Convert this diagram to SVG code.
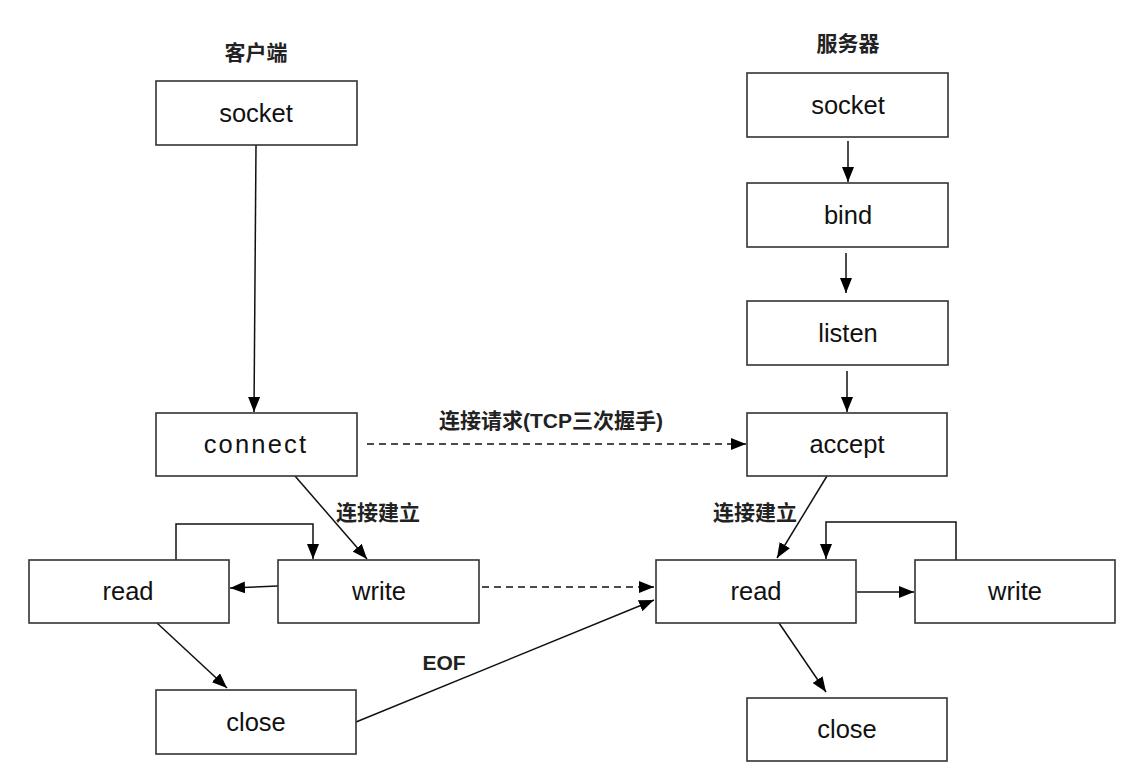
<svg xmlns="http://www.w3.org/2000/svg" width="1134" height="782" viewBox="0 0 1134 782">
<style>
.box{fill:#fff;stroke:#333;stroke-width:1.6}
.t{font-family:"Liberation Sans",Arial,sans-serif;font-size:25.5px;fill:#111;text-anchor:middle}
.cn{font-family:"Liberation Sans","Noto Sans CJK SC",sans-serif;font-size:21px;font-weight:bold;fill:#222;text-anchor:middle}
.ln{fill:none;stroke:#111;stroke-width:1.5}
.d{stroke-dasharray:7 5}
</style>
<defs>
<marker id="a" markerUnits="userSpaceOnUse" markerWidth="16" markerHeight="12" viewBox="0 0 16 12" refX="15" refY="6" orient="auto">
<path d="M0,0 L15,6 L0,12 z" fill="#000"/>
</marker>
</defs>
<rect width="1134" height="782" fill="#fff"/>
<text class="cn" x="256" y="60">客户端</text>
<text class="cn" x="848" y="51">服务器</text>
<g id="connectors">
<path class="ln" d="M256,145 L254,412" marker-end="url(#a)"/>
<path class="ln" d="M848,141 L848,182" marker-end="url(#a)"/>
<path class="ln" d="M846,253 L846,293" marker-end="url(#a)"/>
<path class="ln" d="M847,371 L847,412" marker-end="url(#a)"/>
<path class="ln d" d="M367,444 L746,444" marker-end="url(#a)"/>
<path class="ln" d="M295,476 L367,559" marker-end="url(#a)"/>
<path class="ln" d="M827,476 L777,558" marker-end="url(#a)"/>
<path class="ln" d="M176,560 L176,524 L313,524 L313,559" marker-end="url(#a)"/>
<path class="ln" d="M956,560 L956,522 L826,522 L826,559" marker-end="url(#a)"/>
<path class="ln" d="M278,586 L230,588" marker-end="url(#a)"/>
<path class="ln d" d="M482,587 L654,587" marker-end="url(#a)"/>
<path class="ln" d="M857,592 L914,592" marker-end="url(#a)"/>
<path class="ln" d="M157,623 L227,688" marker-end="url(#a)"/>
<path class="ln" d="M779,623 L826,692" marker-end="url(#a)"/>
<path class="ln" d="M356,722 L654,600" marker-end="url(#a)"/>
<text class="cn" x="551" y="428">连接请求(TCP三次握手)</text>
<text class="cn" x="378" y="520">连接建立</text>
<text class="cn" x="755" y="520">连接建立</text>
<text class="cn" x="444" y="670">EOF</text>
</g>
<g id="c_socket"><rect class="box" x="156" y="81" width="201" height="64"/><text class="t" x="256" y="122">socket</text></g>
<g id="c_connect"><rect class="box" x="156" y="413" width="201" height="63"/><text class="t" x="256" y="453" style="letter-spacing:2.2px">connect</text></g>
<g id="c_read"><rect class="box" x="29" y="560" width="200" height="63"/><text class="t" x="128" y="600">read</text></g>
<g id="c_write"><rect class="box" x="278" y="560" width="201" height="63"/><text class="t" x="379" y="600">write</text></g>
<g id="c_close"><rect class="box" x="156" y="690" width="200" height="64"/><text class="t" x="256" y="731">close</text></g>
<g id="s_socket"><rect class="box" x="747" y="73" width="201" height="64"/><text class="t" x="848" y="114">socket</text></g>
<g id="s_bind"><rect class="box" x="747" y="183" width="201" height="64"/><text class="t" x="848" y="224">bind</text></g>
<g id="s_listen"><rect class="box" x="747" y="301" width="201" height="64"/><text class="t" x="848" y="342">listen</text></g>
<g id="s_accept"><rect class="box" x="747" y="413" width="200" height="63"/><text class="t" x="847" y="453">accept</text></g>
<g id="s_read"><rect class="box" x="656" y="560" width="200" height="63"/><text class="t" x="756" y="600">read</text></g>
<g id="s_write"><rect class="box" x="915" y="560" width="200" height="63"/><text class="t" x="1015" y="600">write</text></g>
<g id="s_close"><rect class="box" x="747" y="698" width="200" height="63"/><text class="t" x="847" y="738">close</text></g>
</svg>
